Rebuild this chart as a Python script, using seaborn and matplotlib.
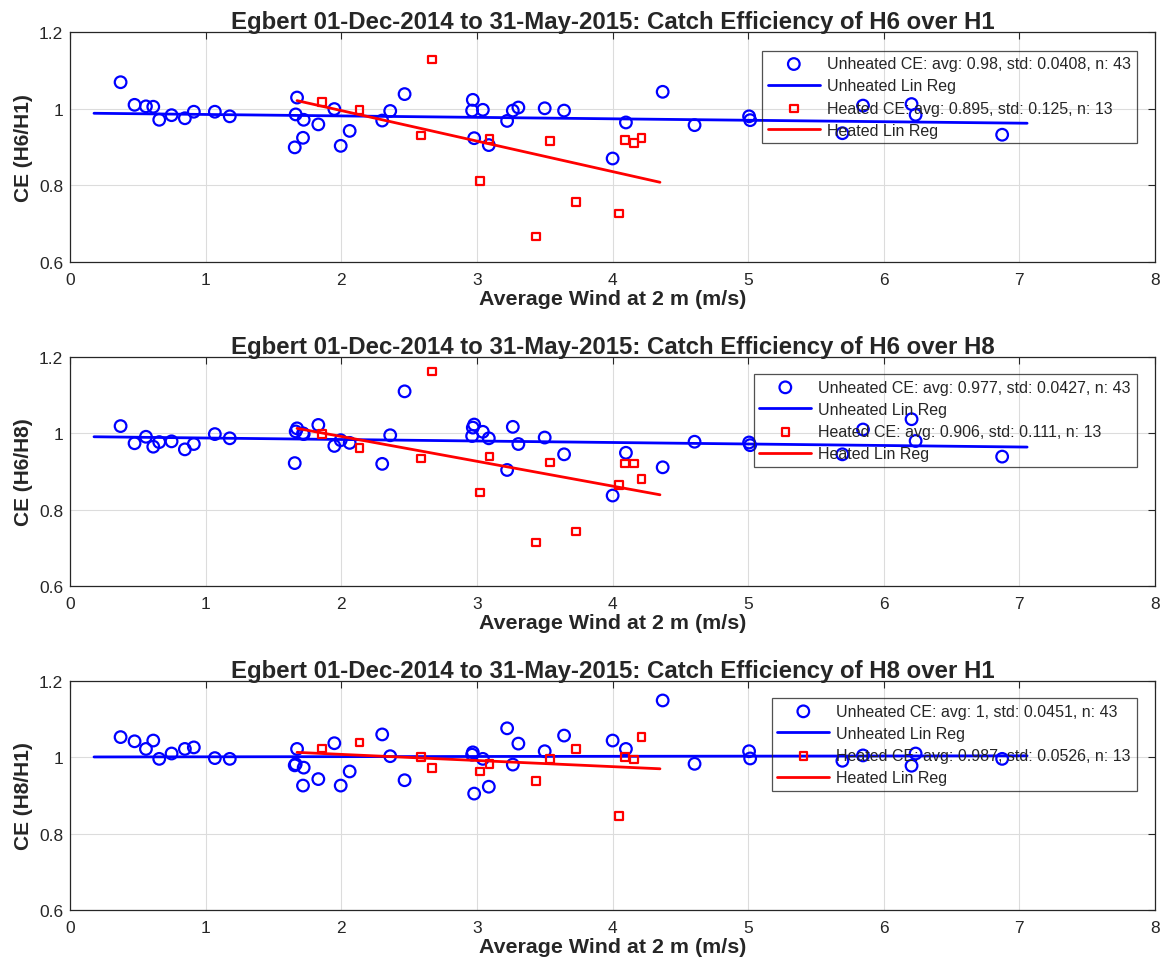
import numpy as np
import pandas as pd
import seaborn as sns
import matplotlib
matplotlib.use("Agg")
import matplotlib.pyplot as plt
from matplotlib.ticker import FixedLocator, FormatStrFormatter

# wind at 2 m (m/s), same days for every ratio
wind_unheated = [0.373, 0.476, 0.560, 0.614, 0.658, 0.749, 0.847, 0.913, 1.068, 1.178,
                 1.674, 1.664, 1.723, 1.718, 1.657, 1.831, 1.949, 1.996, 2.062, 2.302,
                 2.361, 2.467, 2.970, 2.965, 2.980, 3.044, 3.088, 3.223, 3.265, 3.306,
                 3.500, 3.643, 4.001, 4.099, 4.370, 4.605, 5.007, 5.015, 5.695, 5.847,
                 6.205, 6.235, 6.873]
wind_heated = [1.856, 2.136, 2.590, 2.671, 3.024, 3.093, 3.539, 3.436, 3.731, 4.047,
               4.091, 4.160, 4.214]

# catch efficiency H6/H1
ce_h6h1_unheated = [1.069, 1.010, 1.006, 1.005, 0.971, 0.983, 0.975, 0.992, 0.992, 0.980,
                    1.029, 0.985, 0.971, 0.924, 0.899, 0.959, 0.999, 0.903, 0.942, 0.969,
                    0.994, 1.038, 1.023, 0.995, 0.923, 0.997, 0.905, 0.968, 0.995, 1.003,
                    1.001, 0.995, 0.870, 0.964, 1.044, 0.957, 0.980, 0.970, 0.936, 1.008,
                    1.012, 0.984, 0.932]
ce_h6h1_heated = [1.017, 0.996, 0.930, 1.128, 0.811, 0.921, 0.915, 0.667, 0.757, 0.727,
                  0.918, 0.910, 0.924]

# catch efficiency H6/H8
ce_h6h8_unheated = [1.019, 0.974, 0.991, 0.965, 0.977, 0.979, 0.958, 0.972, 0.998, 0.987,
                    1.013, 1.005, 0.998, 1.000, 0.922, 1.022, 0.967, 0.982, 0.975, 0.920,
                    0.995, 1.110, 1.015, 0.993, 1.023, 1.004, 0.987, 0.904, 1.017, 0.972,
                    0.989, 0.945, 0.837, 0.949, 0.911, 0.978, 0.976, 0.969, 0.945, 1.010,
                    1.037, 0.980, 0.939]
ce_h6h8_heated = [0.998, 0.962, 0.934, 1.162, 0.845, 0.939, 0.924, 0.714, 0.743, 0.864,
                  0.921, 0.921, 0.881]

# catch efficiency H8/H1
ce_h8h1_unheated = [1.053, 1.042, 1.022, 1.044, 0.996, 1.010, 1.022, 1.026, 0.998, 0.996,
                    1.022, 0.982, 0.973, 0.926, 0.979, 0.943, 1.037, 0.926, 0.963, 1.060,
                    1.003, 0.940, 1.013, 1.007, 0.905, 0.996, 0.923, 1.076, 0.981, 1.036,
                    1.016, 1.057, 1.044, 1.022, 1.149, 0.983, 1.016, 0.997, 0.991, 1.005,
                    0.978, 1.010, 0.996]
ce_h8h1_heated = [1.023, 1.039, 1.001, 0.972, 0.963, 0.983, 0.996, 0.938, 1.022, 0.846,
                  1.001, 0.994, 1.053]

# regression line end points
fit_x_unheated = [0.177, 7.057]
fit_x_heated = [1.674, 4.350]
fit_h6h1_unheated = [0.988, 0.962]
fit_h6h1_heated = [1.021, 0.808]
fit_h6h8_unheated = [0.991, 0.964]
fit_h6h8_heated = [1.013, 0.839]
fit_h8h1_unheated = [1.001, 1.004]
fit_h8h1_heated = [1.013, 0.970]

titles = ["Egbert 01-Dec-2014 to 31-May-2015: Catch Efficiency of H6 over H1",
          "Egbert 01-Dec-2014 to 31-May-2015: Catch Efficiency of H6 over H8",
          "Egbert 01-Dec-2014 to 31-May-2015: Catch Efficiency of H8 over H1"]
ylabels = ["CE (H6/H1)", "CE (H6/H8)", "CE (H8/H1)"]
unheated_labels = ["Unheated CE: avg: 0.98, std: 0.0408, n: 43",
                   "Unheated CE: avg: 0.977, std: 0.0427, n: 43",
                   "Unheated CE: avg: 1, std: 0.0451, n: 43"]
heated_labels = ["Heated CE: avg: 0.895, std: 0.125, n: 13",
                 "Heated CE: avg: 0.906, std: 0.111, n: 13",
                 "Heated CE: avg: 0.987, std: 0.0526, n: 13"]
xticks = [0, 1, 2, 3, 4, 5, 6, 7, 8]
yticks = [0.6, 0.8, 1.0, 1.2]

panels = [
    (ce_h6h1_unheated, ce_h6h1_heated, fit_h6h1_unheated, fit_h6h1_heated),
    (ce_h6h8_unheated, ce_h6h8_heated, fit_h6h8_unheated, fit_h6h8_heated),
    (ce_h8h1_unheated, ce_h8h1_heated, fit_h8h1_unheated, fit_h8h1_heated),
]

sns.set_style("white")
plt.rcParams['font.family'] = ['Liberation Sans', 'DejaVu Sans']

fig = plt.figure(figsize=(11.63, 9.70), dpi=100)
W, H = 1163, 970
ax_boxes = [(70, 33, 263), (70, 358, 587), (70, 682, 911)]
legend_y = [0.919, 0.926, 0.926]
frame_col = "#262626"

for i, (un, he, fu, fh) in enumerate(panels):
    left, top, bottom = ax_boxes[i]
    ax = fig.add_axes([left / W, 1 - bottom / H, (1155 - left) / W, (bottom - top) / H])

    df_un = pd.DataFrame({"wind": wind_unheated, "ce": un})
    df_he = pd.DataFrame({"wind": wind_heated, "ce": he})

    sns.scatterplot(data=df_un, x="wind", y="ce", ax=ax, marker="o", s=70,
                    facecolor="none", edgecolor="blue", linewidth=1.6,
                    label=unheated_labels[i], zorder=3)
    sns.lineplot(x=fit_x_unheated, y=fu, ax=ax, color="blue", linewidth=2,
                 label="Unheated Lin Reg", zorder=3)
    sns.scatterplot(data=df_he, x="wind", y="ce", ax=ax, marker="s", s=30,
                    facecolor="none", edgecolor="red", linewidth=1.6,
                    label=heated_labels[i], zorder=4)
    sns.lineplot(x=fit_x_heated, y=fh, ax=ax, color="red", linewidth=2,
                 label="Heated Lin Reg", zorder=4)

    ax.set_xlim(0, 8)
    ax.set_ylim(0.6, 1.2)
    ax.xaxis.set_major_locator(FixedLocator(xticks))
    ax.yaxis.set_major_locator(FixedLocator(yticks))
    ax.yaxis.set_major_formatter(FormatStrFormatter("%g"))
    ax.grid(True, color="#dcdcdc", linewidth=0.8)
    ax.set_axisbelow(True)
    ax.tick_params(direction="in", length=5, width=0.8, top=True, right=True,
                   labelsize=12.5, colors=frame_col)
    ax.tick_params(axis="x", pad=7)
    ax.tick_params(axis="y", pad=5)
    for sp in ax.spines.values():
        sp.set_color(frame_col)
        sp.set_linewidth(0.9)

    ax.set_title(titles[i], fontsize=17.3, fontweight="bold", pad=3)
    ax.set_xlabel("Average Wind at 2 m (m/s)", fontsize=15.4, fontweight="bold",
                  color=frame_col, labelpad=2)
    ax.set_ylabel(ylabels[i], fontsize=15, fontweight="bold", color=frame_col,
                  labelpad=4)

    leg = ax.legend(loc="upper right", bbox_to_anchor=(0.983, legend_y[i]),
                    fontsize=11.5, frameon=True, fancybox=False,
                    edgecolor=frame_col, handlelength=3.25, labelspacing=0.45,
                    borderpad=0.35, handletextpad=0.45, scatterpoints=1,
                    borderaxespad=0)
    leg.get_frame().set_facecolor("none")
    leg.get_frame().set_linewidth(0.9)

fig.savefig("out.png", dpi=100)
